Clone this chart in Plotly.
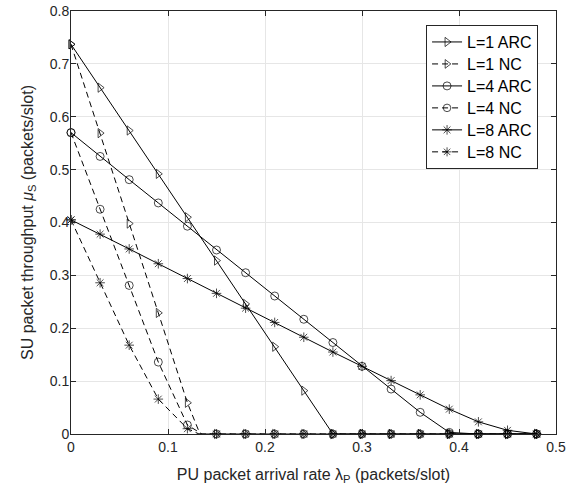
import plotly.graph_objects as go

# ---- data ----
lam = [0, 0.03, 0.06, 0.09, 0.12, 0.15, 0.18, 0.21, 0.24, 0.27, 0.30,
       0.33, 0.36, 0.39, 0.42, 0.45, 0.48]

l1_arc = [0.737, 0.655, 0.574, 0.492, 0.41, 0.328, 0.246, 0.165, 0.082, 0,
          0, 0, 0, 0, 0, 0, 0]
l4_arc = [0.570, 0.525, 0.481, 0.437, 0.393, 0.348, 0.305, 0.261, 0.217, 0.173,
          0.128, 0.085, 0.041, 0.003, 0, 0, 0]
l8_arc = [0.405, 0.378, 0.350, 0.322, 0.294, 0.266, 0.238, 0.211, 0.183, 0.155,
          0.128, 0.101, 0.074, 0.047, 0.023, 0.007, 0]

# NC curves: sampled points plus the point where each curve reaches zero
l1_nc_x = [0, 0.03, 0.06, 0.09, 0.12, 0.133, 0.15, 0.18, 0.21, 0.24, 0.27, 0.30,
           0.33, 0.36, 0.39, 0.42, 0.45, 0.48]
l1_nc = [0.737, 0.569, 0.398, 0.229, 0.059, 0, 0, 0, 0, 0, 0, 0, 0, 0, 0, 0, 0, 0]
l4_nc_x = [0, 0.03, 0.06, 0.09, 0.12, 0.135, 0.15, 0.18, 0.21, 0.24, 0.27, 0.30,
           0.33, 0.36, 0.39, 0.42, 0.45, 0.48]
l4_nc = [0.570, 0.425, 0.281, 0.136, 0.017, 0, 0, 0, 0, 0, 0, 0, 0, 0, 0, 0, 0, 0]
l8_nc_x = [0, 0.03, 0.06, 0.09, 0.12, 0.132, 0.15, 0.18, 0.21, 0.24, 0.27, 0.30,
           0.33, 0.36, 0.39, 0.42, 0.45, 0.48]
l8_nc = [0.405, 0.286, 0.168, 0.066, 0.010, 0, 0, 0, 0, 0, 0, 0, 0, 0, 0, 0, 0, 0]
nc_marker_hidden = 5  # index of the zero-crossing point (no marker)

names = ["L=1 ARC", "L=1 NC", "L=4 ARC", "L=4 NC", "L=8 ARC", "L=8 NC"]
x_ticks = [0, 0.1, 0.2, 0.3, 0.4, 0.5]
x_ticklabels = ["0", "0.1", "0.2", "0.3", "0.4", "0.5"]
y_ticks = [0, 0.1, 0.2, 0.3, 0.4, 0.5, 0.6, 0.7, 0.8]
y_ticklabels = ["0", "0.1", "0.2", "0.3", "0.4", "0.5", "0.6", "0.7", "0.8"]

MS = 8
FONT = "Liberation Sans, Arial, sans-serif"
fig = go.Figure()

def add(x, y, name, symbol, dash, hide_idx=None):
    sizes = [MS] * len(x)
    if hide_idx is not None:
        sizes[hide_idx] = 0
    fig.add_trace(go.Scatter(
        x=x, y=y, name='<span style="font-size:16px">%s</span>' % name,
        mode="lines+markers",
        line=dict(color="black", width=1, dash=dash),
        marker=dict(symbol=symbol, size=sizes, color="black",
                    line=dict(color="black", width=1)),
        cliponaxis=False,
    ))

DASH = "6px,4px"
add(lam, l1_arc, names[0], "triangle-right-open", "solid")
add(l1_nc_x, l1_nc, names[1], "triangle-right-open", DASH, nc_marker_hidden)
add(lam, l4_arc, names[2], "circle-open", "solid")
add(l4_nc_x, l4_nc, names[3], "circle-open", DASH, nc_marker_hidden)
add(lam, l8_arc, names[4], "asterisk-open", "solid")
add(l8_nc_x, l8_nc, names[5], "asterisk-open", DASH, nc_marker_hidden)

axis_common = dict(
    showline=True, linecolor="#262626", linewidth=1, mirror="allticks",
    ticks="inside", ticklen=5, tickcolor="#262626",
    showgrid=True, gridcolor="#e6e6e6", gridwidth=1, zeroline=False,
    automargin=False,
    tickfont=dict(family=FONT, size=14, color="#262626"),
)

fig.update_xaxes(
    range=[0, 0.5], tickvals=x_ticks, ticktext=x_ticklabels,
    title=dict(text="PU packet arrival rate λ<sub>P</sub> (packets/slot)",
               font=dict(family=FONT, size=16, color="#262626")),
    **axis_common)
fig.update_yaxes(
    range=[0, 0.8], tickvals=y_ticks, ticktext=y_ticklabels,
    ticklabelstandoff=-2,
    title=dict(text="SU packet throughput <i>μ</i><sub>S</sub> (packets/slot)",
               font=dict(family=FONT, size=16, color="#262626"),
               standoff=12),
    **axis_common)

fig.update_layout(
    width=573, height=485,
    margin=dict(l=71, r=17, t=11, b=51, autoexpand=False),
    paper_bgcolor="white", plot_bgcolor="white",
    showlegend=True,
    legend=dict(
        x=0.963, y=0.967, xanchor="right", yanchor="top",
        bgcolor="white", bordercolor="#262626", borderwidth=1,
        font=dict(family=FONT, size=14.6, color="black"),
        tracegroupgap=0, itemwidth=30,
    ),
)

fig.write_html("out.html",
               config={"displayModeBar": False},
               post_script="document.body.style.margin='0px';")
